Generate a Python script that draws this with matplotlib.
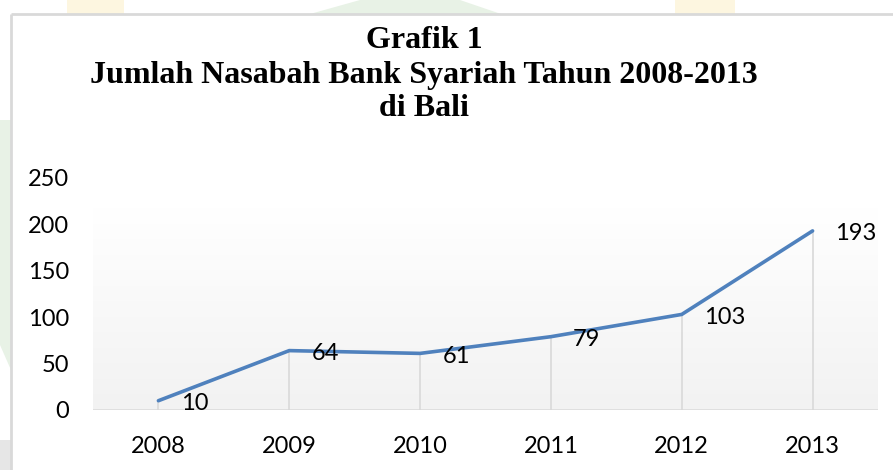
import matplotlib
matplotlib.use("Agg")
import matplotlib.pyplot as plt
import numpy as np
from matplotlib.patches import Rectangle, Polygon

years = ["2008", "2009", "2010", "2011", "2012", "2013"]
nasabah = [10, 64, 61, 79, 103, 193]
yticks = [0, 50, 100, 150, 200, 250]
title_lines = ["Grafik 1", "Jumlah Nasabah Bank Syariah Tahun 2008-2013", "di Bali"]

W, H = 893, 470
fig = plt.figure(figsize=(W / 100, H / 100), dpi=100)

# background decorations (faint watermark patches) in figure coords
bg = fig.add_axes([0, 0, 1, 1], zorder=-10)
bg.set_xlim(0, W)
bg.set_ylim(H, 0)
bg.axis("off")
bg.add_patch(Rectangle((67, 0), 57, 14, color="#fdf6e0", lw=0))
bg.add_patch(Rectangle((675, 0), 60, 14, color="#fdf6e0", lw=0))
bg.add_patch(Polygon([(310, 14), (360, 0), (460, 0), (501, 14)], color="#e8f2e6", lw=0))
bg.add_patch(Polygon([(0, 120), (11, 120), (11, 370), (0, 345)], color="#e8f2e6", lw=0))
bg.add_patch(Rectangle((0, 440), 11, 30, color="#e6e6e6", lw=0))
# chart frame
bg.plot([11, W], [14, 14], color="#d9d9d9", lw=2, solid_capstyle="butt")
bg.plot([11, 11], [14, H], color="#d9d9d9", lw=2, solid_capstyle="butt")
bg.add_patch(Rectangle((12, 15), W - 12, H - 15, color="white", lw=0))

ax = fig.add_axes([93 / W, 60 / H, 785 / W, 232 / H])
x = np.arange(len(years)) + 0.5
ax.set_xlim(0, len(years))
ax.set_ylim(0, 250)

# gradient plot-area fill
grad = np.linspace(0, 1, 256).reshape(-1, 1)
cmap = matplotlib.colors.LinearSegmentedColormap.from_list("g", ["#f2f2f2", "#ffffff"])
ax.imshow(grad, cmap=cmap, aspect="auto", extent=[0, len(years), 0, 217.5],
          origin="lower", zorder=0)

# drop lines
for xi, v in zip(x, nasabah):
    ax.plot([xi, xi], [0, v], color="#d9d9d9", lw=1.2, zorder=1)

ax.axhline(0, color="#d9d9d9", lw=1.8, zorder=2)
ax.plot(x, nasabah, color="#4f81bd", lw=2.6, zorder=3, solid_capstyle="round")

for xi, v in zip(x, nasabah):
    ax.annotate(str(v), (xi, v), xytext=(16, -2), textcoords="offset points",
                ha="left", va="center", fontsize=17, family="Lato", color="black", zorder=4)

for s in ax.spines.values():
    s.set_visible(False)
ax.set_xticks(x)
ax.set_xticklabels(years, fontsize=17, family="Lato")
ax.set_yticks(yticks)
ax.set_yticklabels([str(t) for t in yticks], fontsize=17, family="Lato")
ax.tick_params(length=0)
ax.tick_params(axis="x", pad=19)
ax.tick_params(axis="y", pad=17)

ys = [41, 76, 109]
for t, yy in zip(title_lines, ys):
    fig.text(424 / W, 1 - yy / H, t, ha="center", va="center", fontsize=23,
             family="Liberation Serif", fontweight="bold")

fig.savefig("out.png", dpi=100)
